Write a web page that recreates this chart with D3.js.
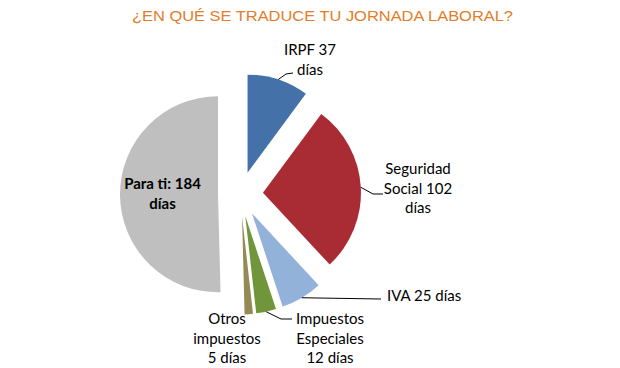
<!DOCTYPE html>
<html>
<head>
<meta charset="utf-8">
<script src="https://cdn.jsdelivr.net/npm/d3@7"></script>
<style>
html,body{margin:0;padding:0;background:#fff;}
svg{display:block;}
</style>
</head>
<body>
<svg id="chart" width="620" height="368"></svg>
<script>
const title = "¿EN QUÉ SE TRADUCE TU JORNADA LABORAL?";
const categories = ["IRPF", "Seguridad Social", "IVA", "Impuestos Especiales", "Otros impuestos", "Para ti"];
const values = [37, 102, 25, 12, 5, 184];
const labelLines = [
  ["IRPF 37", "días"],
  ["Seguridad", "Social 102", "días"],
  ["IVA 25 días"],
  ["Impuestos", "Especiales", "12 días"],
  ["Otros", "impuestos", "5 días"],
  ["Para ti: 184", "días"]
];
const colors = ["#4471A8", "#A92C35", "#93B2DA", "#71953A", "#948A54", "#BFBFBF"];

const svg = d3.select("#chart");
const cx = 240.5, cy = 194, R = 98, explode = 22.5;
const fontFam = "Lato, 'Open Sans', sans-serif";

svg.append("text")
  .attr("x", 322.5).attr("y", 21)
  .attr("text-anchor", "middle")
  .attr("font-family", "'Liberation Sans', Arial, sans-serif")
  .attr("font-size", 15)
  .attr("textLength", 381)
  .attr("lengthAdjust", "spacingAndGlyphs")
  .attr("fill", "#E27D2B")
  .text(title);

const pie = d3.pie().sort(null).value(d => d);
const arcs = pie(values);
const arc = d3.arc().innerRadius(0).outerRadius(R);

const g = svg.append("g").attr("transform", `translate(${cx},${cy})`);

function offset(d) {
  const a = (d.startAngle + d.endAngle) / 2;
  return [Math.sin(a) * explode, -Math.cos(a) * explode];
}
function outerPt(d, r) {
  const a = (d.startAngle + d.endAngle) / 2;
  const o = offset(d);
  return [cx + o[0] + Math.sin(a) * r, cy + o[1] - Math.cos(a) * r];
}

g.selectAll("path.slice")
  .data(arcs)
  .join("path")
  .attr("class", "slice")
  .attr("transform", d => { const o = offset(d); return `translate(${o[0]},${o[1]})`; })
  .attr("d", arc)
  .attr("fill", (d, i) => colors[i]);

// leader lines (layout only)
const leaders = [
  {i: 0, pts: [[286, 74], [293, 73]]},
  {i: 1, pts: [[373, 194], [383, 194]]},
  {i: 2, pts: [[381, 299]]},
  {i: 3, pts: [[281, 319], [292, 319]]}
];
leaders.forEach(l => {
  const s = outerPt(arcs[l.i], R);
  const pts = [s].concat(l.pts);
  svg.append("path")
    .attr("d", d3.line()(pts))
    .attr("fill", "none")
    .attr("stroke", "#000")
    .attr("stroke-width", 1);
});

// labels (layout only)
const labelPos = [
  {x: 310, y: 55, anchor: "middle"},
  {x: 418, y: 174, anchor: "middle"},
  {x: 387, y: 301, anchor: "start"},
  {x: 330, y: 324, anchor: "middle"},
  {x: 227, y: 324, anchor: "middle"},
  {x: 162.5, y: 189, anchor: "middle", bold: true}
];
labelLines.forEach((lines, i) => {
  const p = labelPos[i];
  const t = svg.append("text")
    .attr("font-family", fontFam)
    .attr("font-size", 15)
    .attr("font-weight", p.bold ? "bold" : "normal")
    .attr("fill", "#000")
    .attr("text-anchor", p.anchor);
  lines.forEach((ln, k) => {
    t.append("tspan").attr("x", p.x).attr("y", p.y + k * 19.5).text(ln);
  });
});
</script>
</body>
</html>
